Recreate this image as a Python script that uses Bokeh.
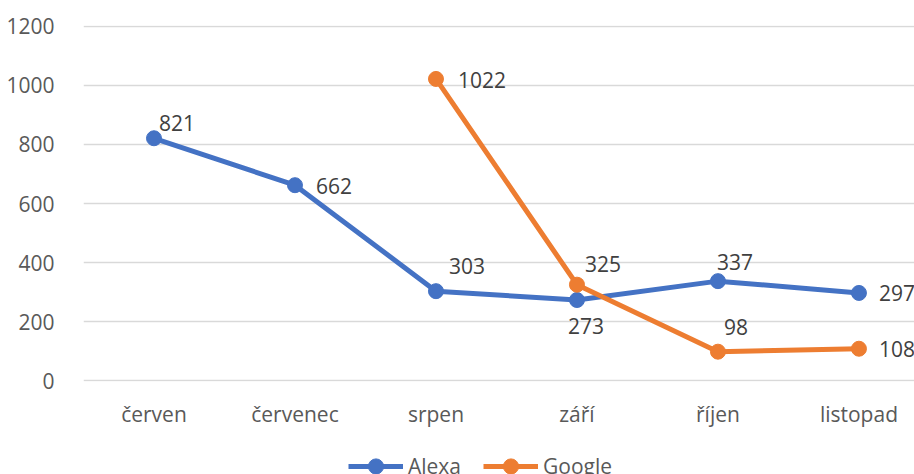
from bokeh.plotting import figure
from bokeh.layouts import column
from bokeh.models import (ColumnDataSource, Range1d, FixedTicker, Legend, LegendItem)
from bokeh.core.properties import value
from bokeh.embed import file_html
from bokeh.resources import INLINE

categories = ["červen", "červenec", "srpen", "září", "říjen", "listopad"]
alexa = [821, 662, 303, 273, 337, 297]
google = [None, None, 1022, 325, 98, 108]
y_ticks = [0, 200, 400, 600, 800, 1000, 1200]
series_names = ["Alexa", "Google"]

# label offsets in pixels (styling only)
alexa_off = [(23, -15), (39, 1), (31, -25), (9, 26), (17, -19), (38, 0)]
google_off = [(0, 0), (0, 0), (46, 1), (26, -21), (18, -25), (38, 0)]

BLUE = "#4472C4"
ORANGE = "#ED7D31"
FONT = "Open Sans"

xs = list(range(len(categories)))
g_vals = [float("nan") if v is None else v for v in google]

src_a = ColumnDataSource(dict(x=xs, y=alexa, lbl=[str(v) for v in alexa],
                              dx=[o[0] for o in alexa_off], dy=[o[1] for o in alexa_off]))
gi = [i for i, v in enumerate(google) if v is not None]
src_g_line = ColumnDataSource(dict(x=xs, y=g_vals))
src_g = ColumnDataSource(dict(x=[xs[i] for i in gi], y=[google[i] for i in gi],
                              lbl=[str(google[i]) for i in gi],
                              dx=[google_off[i][0] for i in gi], dy=[google_off[i][1] for i in gi]))

p = figure(width=914, height=440, output_backend="svg", toolbar_location=None,
           x_range=Range1d(-0.5, 5.394), y_range=Range1d(-3, 1203),
           min_border_left=83, min_border_right=0, min_border_top=25, min_border_bottom=59)
p.outline_line_color = None
p.background_fill_color = "white"
p.border_fill_color = "white"

p.xaxis.ticker = FixedTicker(ticks=xs)
p.xaxis.major_label_overrides = {i: c for i, c in enumerate(categories)}
p.yaxis.ticker = FixedTicker(ticks=y_ticks)
for ax in (p.xaxis, p.yaxis):
    ax.axis_line_color = None
    ax.major_tick_line_color = None
    ax.minor_tick_line_color = None
    ax.major_label_text_font = FONT
    ax.major_label_text_font_size = "21px"
    ax.major_label_text_color = "#595959"
p.yaxis.major_label_standoff = 23
p.xaxis.major_label_standoff = 12
p.xgrid.grid_line_color = None
p.ygrid.grid_line_color = "#D9D9D9"
p.ygrid.grid_line_width = 1.3
p.ygrid.ticker = FixedTicker(ticks=y_ticks)

p.line("x", "y", source=src_a, line_color=BLUE, line_width=5, line_join="round")
p.scatter("x", "y", source=src_a, size=15, fill_color=BLUE, line_color=BLUE)
p.line("x", "y", source=src_g_line, line_color=ORANGE, line_width=5, line_join="round")
p.scatter("x", "y", source=src_g, size=15, fill_color=ORANGE, line_color=ORANGE)

for s in (src_a, src_g):
    p.text("x", "y", text="lbl", source=s, x_offset="dx", y_offset="dy",
           text_font=value(FONT), text_font_size="21px", text_color="#404040",
           text_align="center", text_baseline="middle")

# legend strip below the chart (its ranges exclude the data, so only the legend shows)
q = figure(width=914, height=34, output_backend="svg", toolbar_location=None,
           x_range=Range1d(0, 1), y_range=Range1d(-2, -1),
           min_border_left=0, min_border_right=0, min_border_top=0, min_border_bottom=0)
q.axis.visible = False
q.grid.visible = False
q.outline_line_color = None
q.border_fill_color = "white"
items = []
for name, col, ls, ms in zip(series_names, [BLUE, ORANGE], [src_a, src_g_line], [src_a, src_g]):
    rl = q.line("x", "y", source=ls, line_color=col, line_width=5)
    rm = q.scatter("x", "y", source=ms, fill_color=col, line_color=col)
    items.append(LegendItem(label=name, renderers=[rl, rm]))
legend = Legend(items=items, orientation="horizontal", location=(265, -11),
                glyph_width=55, glyph_height=38, spacing=22, padding=0, margin=0,
                label_text_font=FONT, label_text_font_size="21px",
                label_text_color="#595959", label_standoff=5,
                border_line_color=None, background_fill_alpha=0)
q.add_layout(legend, "center")

layout = column(p, q, spacing=0)
open("out.html", "w").write(file_html(layout, INLINE))
